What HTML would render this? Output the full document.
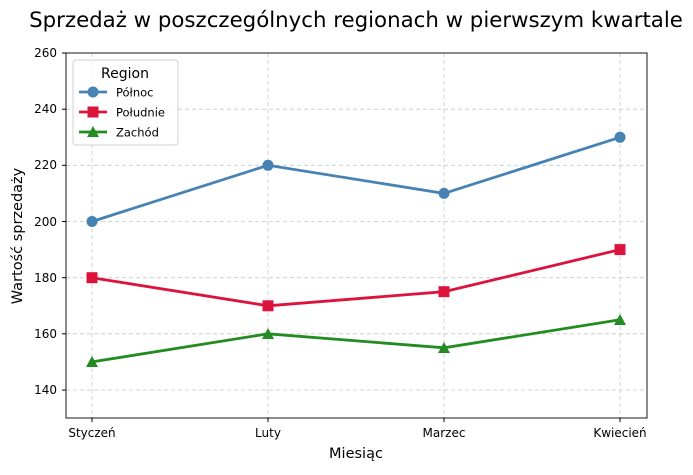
<!DOCTYPE html>
<html><head><meta charset="utf-8"><style>body{margin:0;background:#fff}</style></head><body>
<svg width="693" height="470" xmlns="http://www.w3.org/2000/svg" font-family="DejaVu Sans, Liberation Sans, sans-serif">
<rect width="693" height="470" fill="#fff"/>
<text x="356" y="27" font-size="21.3" text-anchor="middle" fill="#000">Sprzedaż w poszczególnych regionach w pierwszym kwartale</text>
<g stroke="#c8c8c8" stroke-dasharray="4,3" stroke-width="0.8">
<line x1="92" y1="53" x2="92" y2="418"/><line x1="268" y1="53" x2="268" y2="418"/><line x1="444" y1="53" x2="444" y2="418"/><line x1="620" y1="53" x2="620" y2="418"/>
<line x1="66" y1="390" x2="647" y2="390"/><line x1="66" y1="333.8" x2="647" y2="333.8"/><line x1="66" y1="277.7" x2="647" y2="277.7"/><line x1="66" y1="221.5" x2="647" y2="221.5"/><line x1="66" y1="165.3" x2="647" y2="165.3"/><line x1="66" y1="109.2" x2="647" y2="109.2"/><line x1="66" y1="53" x2="647" y2="53"/>
</g>
<rect x="66" y="53" width="581" height="365" fill="none" stroke="#000" stroke-width="0.9"/>
<g font-size="12" fill="#000" text-anchor="end">
<text x="57" y="394">140</text><text x="57" y="338">160</text><text x="57" y="282">180</text><text x="57" y="226">200</text><text x="57" y="169">220</text><text x="57" y="113">240</text><text x="57" y="57">260</text>
</g>
<g stroke="#000"><line x1="62" y1="390" x2="66" y2="390"/><line x1="62" y1="333.8" x2="66" y2="333.8"/><line x1="62" y1="277.7" x2="66" y2="277.7"/><line x1="62" y1="221.5" x2="66" y2="221.5"/><line x1="62" y1="165.3" x2="66" y2="165.3"/><line x1="62" y1="109.2" x2="66" y2="109.2"/><line x1="62" y1="53" x2="66" y2="53"/>
<line x1="92" y1="418" x2="92" y2="422"/><line x1="268" y1="418" x2="268" y2="422"/><line x1="444" y1="418" x2="444" y2="422"/><line x1="620" y1="418" x2="620" y2="422"/></g>
<g font-size="12" fill="#000" text-anchor="middle">
<text x="92" y="437">Styczeń</text><text x="268" y="437">Luty</text><text x="444" y="437">Marzec</text><text x="620" y="437">Kwiecień</text>
</g>
<text x="356" y="458" font-size="14.5" text-anchor="middle">Miesiąc</text>
<text transform="translate(22,236) rotate(-90)" font-size="14.5" text-anchor="middle">Wartość sprzedaży</text>
<polyline points="92,221.5 268,165.3 444,193.4 620,137.3" fill="none" stroke="#4682b4" stroke-width="2.8"/>
<g fill="#4682b4"><circle cx="92" cy="221.5" r="5.5"/><circle cx="268" cy="165.3" r="5.5"/><circle cx="444" cy="193.4" r="5.5"/><circle cx="620" cy="137.3" r="5.5"/></g>
<polyline points="92,277.7 268,305.8 444,291.7 620,249.6" fill="none" stroke="#dc143c" stroke-width="2.8"/>
<g fill="#dc143c"><rect x="86.5" y="272.2" width="11" height="11"/><rect x="262.5" y="300.3" width="11" height="11"/><rect x="438.5" y="286.2" width="11" height="11"/><rect x="614.5" y="244.1" width="11" height="11"/></g>
<polyline points="92,361.9 268,333.8 444,347.8 620,319.8" fill="none" stroke="#228b22" stroke-width="2.8"/>
<g fill="#228b22"><polygon points="92,356 98,367 86,367"/><polygon points="268,328 274,339 262,339"/><polygon points="444,342 450,353 438,353"/><polygon points="620,314 626,325 614,325"/></g>
<rect x="73" y="60" width="105" height="85" rx="3" fill="#fff" fill-opacity="0.8" stroke="#d0d0d0"/>
<text x="125" y="78" font-size="14" text-anchor="middle">Region</text>
<line x1="79" y1="92" x2="107" y2="92" stroke="#4682b4" stroke-width="2.8"/><circle cx="93" cy="92" r="5.5" fill="#4682b4"/>
<text x="116" y="96.5" font-size="11.5">Północ</text>
<line x1="79" y1="112" x2="107" y2="112" stroke="#dc143c" stroke-width="2.8"/><rect x="87.5" y="106.5" width="11" height="11" fill="#dc143c"/>
<text x="116" y="116.5" font-size="11.5">Południe</text>
<line x1="79" y1="132" x2="107" y2="132" stroke="#228b22" stroke-width="2.8"/><polygon points="93,126 99,137 87,137" fill="#228b22"/>
<text x="116" y="136.5" font-size="11.5">Zachód</text>
</svg>
</body></html>
